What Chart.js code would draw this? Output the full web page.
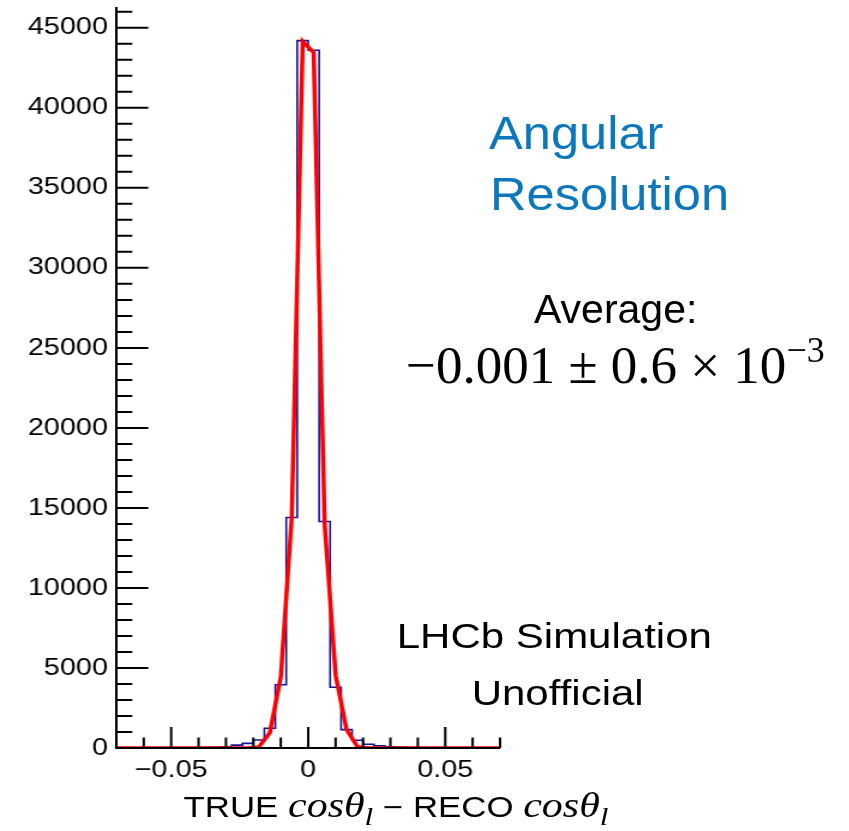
<!DOCTYPE html>
<html lang="en">
<head>
    <meta charset="UTF-8">
    <title>Angular Resolution</title>
    <script src="https://cdn.jsdelivr.net/npm/chart.js"></script>
    <style>
        body {
            margin: 0;
            background: #fff;
        }
        #wrap {
            position: relative;
            width: 849px;
            height: 831px;
            overflow: hidden;
        }
        #plot {
            position: absolute;
            left: 0;
            top: 0;
        }
        .note {
            position: absolute;
            white-space: nowrap;
            line-height: 1;
            font-family: "Liberation Sans", Arial, sans-serif;
            color: #000;
        }
        .blue {
            color: #0b78be;
            font-size: 46px;
            transform: scaleX(1.1);
            transform-origin: 0 0;
        }
        .avg {
            font-size: 41px;
        }
        .formula {
            font-family: "Liberation Serif", "Times New Roman", serif;
            font-size: 53px;
        }
        .formula .sup {
            font-size: 36px;
            position: relative;
            top: -21px;
        }
        .lhcb {
            font-size: 35px;
            transform: scaleX(1.2);
            transform-origin: 50% 0;
        }
        .xtitle {
            font-size: 29px;
            transform: scaleX(1.2);
            transform-origin: 50% 0;
        }
        .xtitle i {
            font-family: "Liberation Serif", "Times New Roman", serif;
            font-size: 35px;
        }
        .xtitle .sub {
            font-size: 26px;
            position: relative;
            top: 8px;
        }
    </style>
</head>
<body>
<div id="wrap">
    <!-- the ROOT plot was pasted stretched sideways, so the canvas is drawn at 708 wide and shown at 849 -->
    <canvas id="plot" width="708" height="831" style="width:849px;height:831px"></canvas>
    <div class="note blue" id="t1">Angular</div>
    <div class="note blue" id="t2">Resolution</div>
    <div class="note avg" id="t3">Average:</div>
    <div class="note formula" id="t4">&minus;0.001 &plusmn; 0.6 &times; 10<span class="sup">&minus;3</span></div>
    <div class="note lhcb" id="t5">LHCb Simulation</div>
    <div class="note lhcb" id="t6">Unofficial</div>
    <div class="note xtitle" id="t7">TRUE <i>cos&theta;<span class="sub">l</span></i> &minus; RECO <i>cos&theta;<span class="sub">l</span></i></div>
</div>

<script>
// histogram bins (width 0.004), counts and fitted curve
const binCenters = [-0.070, -0.066, -0.062, -0.058, -0.054, -0.050, -0.046, -0.042, -0.038,
    -0.034, -0.030, -0.026, -0.022, -0.018, -0.014, -0.010, -0.006, -0.002,
    0.002, 0.006, 0.010, 0.014, 0.018, 0.022, 0.026, 0.030, 0.034,
    0.038, 0.042, 0.046, 0.050, 0.054, 0.058, 0.062, 0.066, 0.070];
const histCounts = [3, 4, 5, 6, 8, 10, 14, 18, 26,
    45, 80, 180, 290, 500, 1230, 3950, 14400, 44200,
    43600, 14150, 3800, 1150, 480, 230, 140, 80, 45,
    28, 18, 13, 10, 7, 6, 4, 3, 3];
const fitValues = [0, 0, 0, 0, 0, 0, 0, 0, 0,
    0, 0, 0, 5, 70, 950, 4450, 14400, 44150,
    43450, 14000, 4550, 1150, 80, 5, 0, 0, 0,
    0, 0, 0, 0, 0, 0, 0, 0, 0];
const xTickValues = [-0.05, 0, 0.05];
const yTickValues = [0, 5000, 10000, 15000, 20000, 25000, 30000, 35000, 40000, 45000];

const FONT = '"Liberation Sans", Arial, sans-serif';

// ROOT style axes: ticks point into the frame
const rootAxes = {
    id: 'rootAxes',
    afterDraw(chart) {
        const { ctx, chartArea: a, scales: { x, y } } = chart;
        ctx.save();
        ctx.strokeStyle = '#000';
        ctx.lineWidth = 2;
        ctx.beginPath();
        ctx.moveTo(a.left, a.top);
        ctx.lineTo(a.left, a.bottom);
        ctx.lineTo(a.right, a.bottom);
        for (let v = 0; v <= y.max; v += 1000) {
            const py = y.getPixelForValue(v);
            const len = v % 5000 === 0 ? 26.7 : 13.3;
            ctx.moveTo(a.left, py);
            ctx.lineTo(a.left + len, py);
        }
        for (let k = -7; k <= 7; k++) {
            const px = x.getPixelForValue(k / 100);
            const len = k % 5 === 0 ? 21 : 10.5;
            ctx.moveTo(px, a.bottom);
            ctx.lineTo(px, a.bottom - len);
        }
        ctx.stroke();
        ctx.restore();
    }
};

new Chart(document.getElementById('plot'), {
    type: 'line',
    data: {
        datasets: [
            {
                label: 'fit',
                data: binCenters.map((c, i) => ({ x: c, y: fitValues[i] })),
                borderColor: '#ff0000',
                borderWidth: 3.5,
                pointRadius: 0,
                tension: 0
            },
            {
                label: 'histogram',
                data: binCenters.map((c, i) => ({ x: c, y: histCounts[i] })),
                borderColor: '#14149a',
                borderWidth: 1.6,
                pointRadius: 0,
                stepped: 'middle'
            }
        ]
    },
    options: {
        responsive: false,
        animation: false,
        devicePixelRatio: 1,
        layout: { padding: { top: 7, right: 291, left: 0, bottom: 0 } },
        plugins: {
            legend: { display: false },
            tooltip: { enabled: false }
        },
        scales: {
            x: {
                type: 'linear',
                min: -0.07,
                max: 0.07,
                grid: { display: false, drawTicks: false },
                border: { display: false },
                afterBuildTicks: s => { s.ticks = xTickValues.map(v => ({ value: v })); },
                afterFit: s => {
                    s.height = 83;
                    s.paddingLeft = 0;
                    s.paddingRight = 0;
                },
                ticks: {
                    padding: 8,
                    color: '#000',
                    maxRotation: 0,
                    autoSkip: false,
                    font: { family: FONT, size: 24 },
                    callback: v => v === 0 ? '0' : (v < 0 ? '\u2212' : '') + Math.abs(v).toFixed(2)
                }
            },
            y: {
                min: 0,
                max: 46300,
                grid: { display: false, drawTicks: false },
                border: { display: false },
                afterBuildTicks: s => { s.ticks = yTickValues.map(v => ({ value: v })); },
                afterFit: s => {
                    s.width = 97;
                    s.paddingTop = 0;
                    s.paddingBottom = 0;
                },
                ticks: {
                    padding: 7,
                    color: '#000',
                    autoSkip: false,
                    font: { family: FONT, size: 24 },
                    callback: v => String(v)
                }
            }
        }
    },
    plugins: [rootAxes]
});

// put a text block so that its baseline sits at the given y
function placeText(id, x, baseline, centered) {
    const el = document.getElementById(id);
    const mark = document.createElement('span');
    mark.style.cssText = 'display:inline-block;width:0;height:0;';
    el.insertBefore(mark, el.firstChild);
    el.style.top = (baseline - mark.offsetTop) + 'px';
    el.style.left = (centered ? x - el.offsetWidth / 2 : x) + 'px';
}

placeText('t1', 489, 149, false);
placeText('t2', 490, 210, false);
placeText('t3', 534, 323, false);
placeText('t4', 406, 383, false);
placeText('t5', 554, 648, true);
placeText('t6', 557, 705, true);
placeText('t7', 396, 817, true);
</script>
</body>
</html>
